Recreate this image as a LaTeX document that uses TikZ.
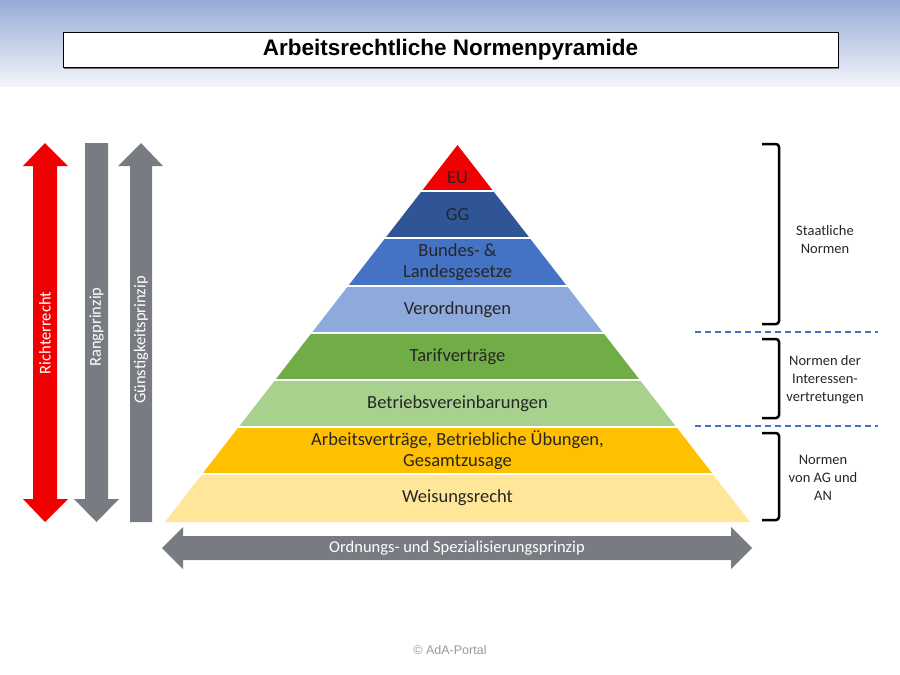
\documentclass[tikz,border=0pt]{standalone}
\usepackage{fontspec}
\setmainfont{Carlito}
\newfontfamily\arialfont{Liberation Sans}
\usetikzlibrary{calc}
\definecolor{euRed}{RGB}{240,0,0}
\definecolor{ggBlue}{RGB}{47,85,151}
\definecolor{lawBlue}{RGB}{68,114,196}
\definecolor{ordBlue}{RGB}{142,169,219}
\definecolor{tarifGreen}{RGB}{112,173,71}
\definecolor{betrGreen}{RGB}{169,209,142}
\definecolor{avOrange}{RGB}{255,192,0}
\definecolor{weisYellow}{RGB}{255,230,153}
\definecolor{arrowGray}{RGB}{120,124,130}
\definecolor{headBlue}{RGB}{152,170,214}
\definecolor{dashBlue}{RGB}{68,114,196}
\tikzset{
  layertext/.style={align=center, font=\fontsize{18.5}{21}\selectfont, text=black!85},
  arrowtext/.style={text=white, font=\fontsize{16.5}{18}\selectfont},
  sidetext/.style={align=center, font=\fontsize{14.5}{18}\selectfont, text=black!85},
  bracket/.style={line width=2.5pt, rounded corners=3pt},
  divider/.style={dashBlue, line width=2pt, dash pattern=on 6pt off 4pt}
}

\begin{document}
\begin{tikzpicture}[x=1pt,y=-1pt]
    \useasboundingbox (0,0) rectangle (900,675);

    % header band
    \shade[top color=headBlue, bottom color=headBlue!12] (0,0) rectangle (900,86);

    % title
    \fill[black!55] (64,35) rectangle (839,69);
    \node[draw=black, fill=white, line width=0.8pt, minimum width=775pt, minimum height=35pt, inner sep=0pt,
          font=\arialfont\bfseries\fontsize{22.5}{24}\selectfont] (title) at (450.5,49.5) {Arbeitsrechtliche Normenpyramide};

    % pyramid layers
    \fill[euRed] (457.5,145) -- ({457.5+0.7759*46},191) -- ({457.5-0.7759*46},191) -- cycle;
    \node[layertext] (eu) at (457.5,178) {EU};
    \foreach \ya/\yb/\col/\name/\txt in {191/238/ggBlue/gg/GG,
        238/286/lawBlue/gesetze/{Bundes- \&\\Landesgesetze},
        286/333/ordBlue/verordnung/Verordnungen,
        333/380/tarifGreen/tarif/Tarifverträge,
        380/427/betrGreen/betrieb/Betriebsvereinbarungen,
        427/474/avOrange/vertrag/{Arbeitsverträge, Betriebliche Übungen,\\Gesamtzusage},
        474/522/weisYellow/weisung/Weisungsrecht}
    {
        \fill[\col] ({457.5-0.7759*(\ya-145)},\ya) -- ({457.5+0.7759*(\ya-145)},\ya)
            -- ({457.5+0.7759*(\yb-145)},\yb) -- ({457.5-0.7759*(\yb-145)},\yb) -- cycle;
        \node[layertext] (\name) at (457.5,{(\ya+\yb)/2}) {\txt};
    }
    % white gaps between layers
    \foreach \y in {191,238,286,333,380,427,474}
        \draw[white, line width=1.8pt] ({455.5-0.7759*(\y-145)},\y) -- ({459.5+0.7759*(\y-145)},\y);

    % left arrows
    \fill[euRed] (45,143) -- (68,166) -- (57,166) -- (57,499) -- (68,499) -- (45,522)
        -- (23,499) -- (33,499) -- (33,166) -- (23,166) -- cycle;
    \node[arrowtext, rotate=90] (richter) at (45,333) {Richterrecht};
    \fill[arrowGray] (85,143) -- (108,143) -- (108,499) -- (119,499) -- (96.5,522) -- (74,499) -- (85,499) -- cycle;
    \node[arrowtext, rotate=90] (rang) at (96.5,327) {Rangprinzip};
    \fill[arrowGray] (141,143) -- (163,166) -- (152,166) -- (152,522) -- (130,522) -- (130,166) -- (118,166) -- cycle;
    \node[arrowtext, rotate=90] (guenstig) at (141,340) {Günstigkeitsprinzip};

    % bottom arrow
    \fill[arrowGray] (162,548) -- (183,527) -- (183,536) -- (731,536) -- (731,527) -- (752,548)
        -- (731,569) -- (731,560) -- (183,560) -- (183,569) -- cycle;
    \node[arrowtext] (ordnung) at (457,548) {Ordnungs- und Spezialisierungsprinzip};

    % brackets on the right
    \draw[bracket] (762,144) -- (779,144) -- (779,324) -- (762,324);
    \draw[bracket] (762,339) -- (779,339) -- (779,418) -- (762,418);
    \draw[bracket] (762,433) -- (779,433) -- (779,520) -- (762,520);
    \draw[divider] (695,332) -- (878,332);
    \draw[divider] (695,426) -- (878,426);
    \node[sidetext] (staat) at (825,240) {Staatliche\\Normen};
    \node[sidetext] (interessen) at (825,380) {Normen der\\Interessen-\\vertretungen};
    \node[sidetext] (agan) at (823,478) {Normen\\von AG und\\AN};

    % footer
    \node[text=black!40, font=\arialfont\fontsize{12.5}{15}\selectfont] (copy) at (450,650) {© AdA-Portal};
\end{tikzpicture}
\end{document}
